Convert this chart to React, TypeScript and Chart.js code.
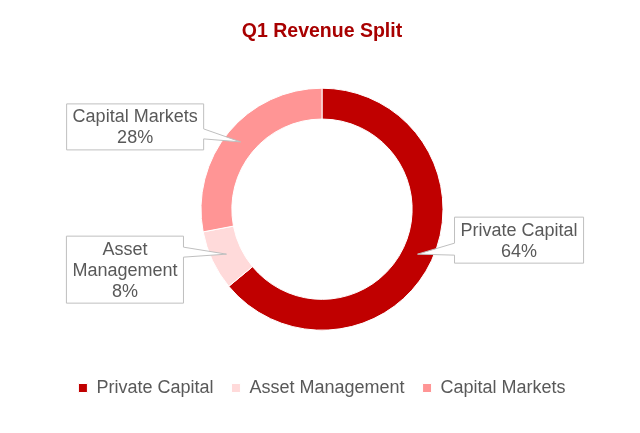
import React, { useEffect, useRef } from "react";
import { Chart, registerables } from "chart.js";

Chart.register(...registerables);

const categories = ["Private Capital", "Asset Management", "Capital Markets"];
const revenueShare = [64, 8, 28];
const sliceColors = ["#C00000", "#FFDADA", "#FF9595"];
const chartTitle = "Q1 Revenue Split";

const FONT = "'Liberation Sans', Arial, Helvetica, sans-serif";
const TEXT_COLOR = "#595959";

// callout layout per slice (box placement relative to the arc's anchor point)
const calloutLayout = [
  { side: "right", gap: 37, top: -37, wedge: [26, 38], lines: ["Private Capital"] },
  { side: "left", gap: 43, top: -18, wedge: [11, 21], lines: ["Asset", "Management"] },
  { side: "left", gap: 37, top: -38, wedge: [25, 35], lines: ["Capital Markets"] },
];

const calloutPlugin = {
  id: "callouts",
  afterDatasetsDraw(chart: any) {
    const ctx = chart.ctx;
    const meta = chart.getDatasetMeta(0);
    const data = chart.data.datasets[0].data as number[];
    const total = data.reduce((a, b) => a + b, 0);
    ctx.save();
    ctx.font = `18px ${FONT}`;
    const lineH = 21;
    meta.data.forEach((arc: any, i: number) => {
      const p = arc.getProps(["x", "y", "startAngle", "endAngle", "innerRadius", "outerRadius"], true);
      const mid = (p.startAngle + p.endAngle) / 2;
      const r = (p.innerRadius + p.outerRadius) / 2;
      const tx = p.x + Math.cos(mid) * r;
      const ty = p.y + Math.sin(mid) * r;
      const lay = calloutLayout[i];
      const pct = Math.round((data[i] / total) * 100) + "%";
      const lines = [...lay.lines, pct];
      const tw = Math.max(...lines.map((l) => ctx.measureText(l).width));
      const w = tw + 12;
      const h = lines.length * lineH + 4;
      const top = ty + lay.top;
      const left = lay.side === "left" ? tx - lay.gap - w : tx + lay.gap;
      const right = left + w;
      const bottom = top + h;
      const w0 = top + lay.wedge[0];
      const w1 = top + lay.wedge[1];
      ctx.beginPath();
      ctx.moveTo(left, top);
      ctx.lineTo(right, top);
      if (lay.side === "left") {
        ctx.lineTo(right, w0);
        ctx.lineTo(tx, ty);
        ctx.lineTo(right, w1);
        ctx.lineTo(right, bottom);
        ctx.lineTo(left, bottom);
        ctx.lineTo(left, top);
      } else {
        ctx.lineTo(right, bottom);
        ctx.lineTo(left, bottom);
        ctx.lineTo(left, w1);
        ctx.lineTo(tx, ty);
        ctx.lineTo(left, w0);
        ctx.lineTo(left, top);
      }
      ctx.closePath();
      ctx.fillStyle = "#FFFFFF";
      ctx.fill();
      ctx.strokeStyle = "#BFBFBF";
      ctx.lineWidth = 1;
      ctx.stroke();
      ctx.fillStyle = TEXT_COLOR;
      ctx.textAlign = "center";
      ctx.textBaseline = "middle";
      const cx = (left + right) / 2;
      lines.forEach((l, k) => {
        ctx.fillText(l, cx, top + 3 + lineH / 2 + k * lineH);
      });
    });
    ctx.restore();
  },
};

export default function App() {
  const ref = useRef<HTMLCanvasElement | null>(null);
  useEffect(() => {
    if (!ref.current) return;
    const chart = new Chart(ref.current, {
      type: "doughnut",
      data: {
        labels: categories,
        datasets: [
          {
            data: revenueShare,
            backgroundColor: sliceColors,
            borderColor: "#FFFFFF",
            borderWidth: 1,
          },
        ],
      },
      options: {
        responsive: false,
        animation: false,
        radius: 121,
        cutout: "74.5%",
        layout: { padding: { left: 4, bottom: 26 } },
        plugins: {
          title: {
            display: true,
            text: chartTitle,
            color: "#A80000",
            font: { family: FONT, size: 19.5, weight: "bold" },
            padding: { top: 20, bottom: 14 },
          },
          legend: {
            position: "bottom",
            labels: {
              boxWidth: 9,
              boxHeight: 9,
              padding: 18,
              color: TEXT_COLOR,
              font: { family: FONT, size: 18 },
            },
          },
          tooltip: { enabled: false },
        },
      },
      plugins: [calloutPlugin],
    });
    return () => chart.destroy();
  }, []);
  return (
    <div style={{ position: "absolute", left: 0, top: 0, width: 640, height: 433, background: "#fff" }}>
      <canvas ref={ref} width={640} height={433} style={{ display: "block" }} />
    </div>
  );
}
